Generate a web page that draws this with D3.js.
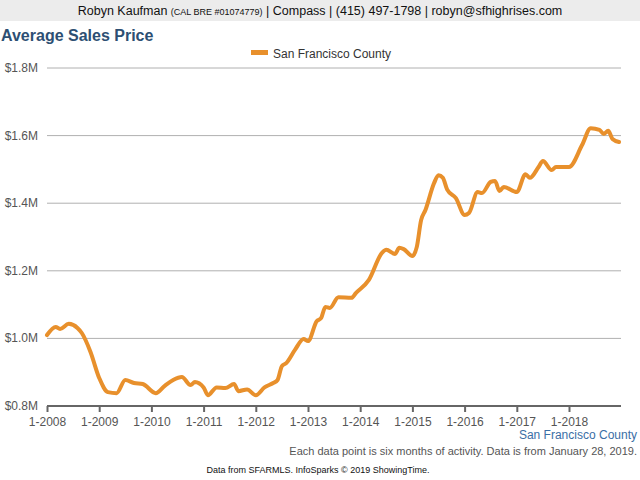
<!DOCTYPE html><html><head><meta charset="utf-8">
<script src="https://cdn.jsdelivr.net/npm/d3@7"></script>
<style>body{margin:0;background:#fff}text{font-family:"Liberation Sans",Arial,sans-serif}</style></head><body>
<svg id="c" width="640" height="480"></svg>
<script>
const months=[0,2,3,5,7,8,10,12,14,16,18,20,22,25,27,29,31,33,34,36,37,39,41,43,44,46,48,50,52,53,54,55,57,59,60,62,63,64,65,67,70,71,74,77,78,80,81,82,84,85,86,87,89,90,91,92,94,96,97,99,100,102,103,104,105,108,110,111,113,114,116,117,120,123,125,127,128,129,130,131.5];
const values=[1.01,1.034,1.028,1.043,1.031,1.016,0.96,0.883,0.841,0.838,0.877,0.868,0.865,0.838,0.859,0.877,0.886,0.862,0.871,0.855,0.832,0.855,0.853,0.865,0.844,0.849,0.832,0.855,0.868,0.877,0.918,0.927,0.966,0.998,0.992,1.051,1.06,1.093,1.09,1.122,1.12,1.134,1.173,1.253,1.262,1.25,1.268,1.264,1.244,1.27,1.35,1.38,1.46,1.483,1.475,1.44,1.415,1.365,1.371,1.433,1.43,1.463,1.466,1.436,1.448,1.433,1.486,1.475,1.507,1.525,1.498,1.507,1.507,1.572,1.622,1.617,1.605,1.614,1.59,1.581];
const xTickLabels=["1-2008","1-2009","1-2010","1-2011","1-2012","1-2013","1-2014","1-2015","1-2016","1-2017","1-2018"];
const yTicks=[0.8,1.0,1.2,1.4,1.6,1.8];
const yTickLabels=["$0.8M","$1.0M","$1.2M","$1.4M","$1.6M","$1.8M"];
const seriesName="San Francisco County";
const svg=d3.select("#c");
const x=d3.scaleLinear().domain([0,120]).range([47,569]);
const y=d3.scaleLinear().domain([0.8,1.8]).range([406,68]);
svg.append("rect").attr("width",640).attr("height",21).attr("fill","#ececec");
const hdr=svg.append("text").attr("x",320).attr("y",15).attr("text-anchor","middle").attr("font-size",12.5).attr("fill","#111");
hdr.append("tspan").text("Robyn Kaufman ");
hdr.append("tspan").attr("font-size",9).text("(CAL BRE #01074779)");
hdr.append("tspan").text(" | Compass | (415) 497-1798 | robyn@sfhighrises.com");
svg.append("text").attr("x",1).attr("y",41).attr("font-size",16).attr("font-weight","bold").attr("fill","#2d4f73").text("Average Sales Price");
svg.append("rect").attr("x",251).attr("y",50).attr("width",17).attr("height",5).attr("fill","#e8902c");
svg.append("text").attr("x",273).attr("y",58).attr("font-size",12).attr("fill","#333").text(seriesName);
svg.append("g").selectAll("line").data(yTicks.slice(1)).join("line")
 .attr("x1",47).attr("x2",621).attr("y1",d=>y(d)).attr("y2",d=>y(d)).attr("stroke","#b0b0b0");
svg.append("g").selectAll("text").data(yTicks).join("text")
 .attr("x",38).attr("y",d=>y(d)+4).attr("text-anchor","end").attr("font-size",12).attr("fill","#555").text((d,i)=>yTickLabels[i]);
const ax=svg.append("g").attr("transform","translate(0,406)")
 .call(d3.axisBottom(x).tickValues(d3.range(0,121,12)).tickSize(6).tickFormat((d,i)=>xTickLabels[i]));
ax.select(".domain").attr("stroke","#666").attr("stroke-width",2).attr("d","M47,0H621");
ax.selectAll(".tick line").attr("stroke","#666").attr("stroke-width",2);
ax.selectAll(".tick text").attr("font-size",12).attr("fill","#555").attr("font-family","Liberation Sans,Arial,sans-serif").attr("dy","0.9em");
const pts=months.map((m,i)=>[m,values[i]]);
svg.append("path").datum(pts).attr("fill","none").attr("stroke","#e8902c").attr("stroke-width",4).attr("stroke-linejoin","round").attr("stroke-linecap","round")
 .attr("d",d3.line().x(d=>x(d[0])).y(d=>y(d[1])).curve(d3.curveMonotoneX));
svg.append("text").attr("x",637).attr("y",439).attr("text-anchor","end").attr("font-size",12).attr("fill","#3a6ea5").text(seriesName);
svg.append("text").attr("x",637).attr("y",455).attr("text-anchor","end").attr("font-size",11).attr("fill","#555").text("Each data point is six months of activity. Data is from January 28, 2019.");
svg.append("text").attr("x",318).attr("y",473).attr("text-anchor","middle").attr("font-size",9).attr("fill","#111").text("Data from SFARMLS. InfoSparks © 2019 ShowingTime.");
</script></body></html>
